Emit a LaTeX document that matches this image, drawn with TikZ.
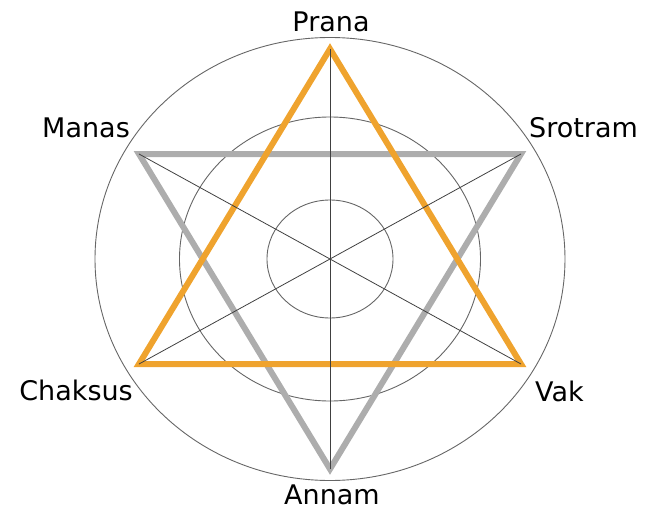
\documentclass[tikz,border=0pt]{standalone}
\usepackage{fontspec}
\setmainfont{DejaVu Sans}
\usepackage{xcolor}
\usepackage{tikz}
\definecolor{triOrange}{RGB}{239,163,46}
\definecolor{triGray}{RGB}{173,173,173}

\begin{document}
\begin{tikzpicture}[
    x=1pt, y=1pt,
    ring/.style={draw=black!60, line width=0.9pt},
    spoke/.style={draw=black!75, line width=0.8pt},
    tri/.style={line width=6pt, line join=miter},
    lbl/.style={inner sep=0pt, font=\fontsize{27}{32}\selectfont}
  ]
  \useasboundingbox (-330,-253) rectangle (329,259);
  % Rings
  \draw[ring] (0,0) ellipse [x radius=63pt, y radius=59pt];
  \draw[ring] (0,0) ellipse [x radius=150.5pt, y radius=142pt];
  \draw[ring] (0,0) ellipse [x radius=235pt, y radius=221.5pt];

  % Axis ends
  \coordinate (O) at (0,0);
  \coordinate (prana) at (0,210);
  \coordinate (srotram) at (191,105);
  \coordinate (vak) at (191,-105);
  \coordinate (annam) at (0,-210);
  \coordinate (chaksus) at (-191,-105);
  \coordinate (manas) at (-191,105);

  % Triangles
  \draw[tri, draw=triGray] (manas) -- (srotram) -- (annam) -- cycle;
  \draw[tri, draw=triOrange] (prana) -- (vak) -- (chaksus) -- cycle;

  % Spokes
  \foreach \v in {prana,srotram,vak,annam,chaksus,manas}
    \draw[spoke] (O) -- (\v);

  % Labels
  \node[lbl, anchor=base] (pranaL) at (1,227) {Prana};
  \node[lbl, anchor=base east] (manasL) at (-200,122) {Manas};
  \node[lbl, anchor=base west] (srotramL) at (199,122) {Srotram};
  \node[lbl, anchor=base east] (chaksusL) at (-197,-141) {Chaksus};
  \node[lbl, anchor=base west] (vakL) at (205,-142) {Vak};
  \node[lbl, anchor=base] (annamL) at (2,-245) {Annam};
\end{tikzpicture}
\end{document}
